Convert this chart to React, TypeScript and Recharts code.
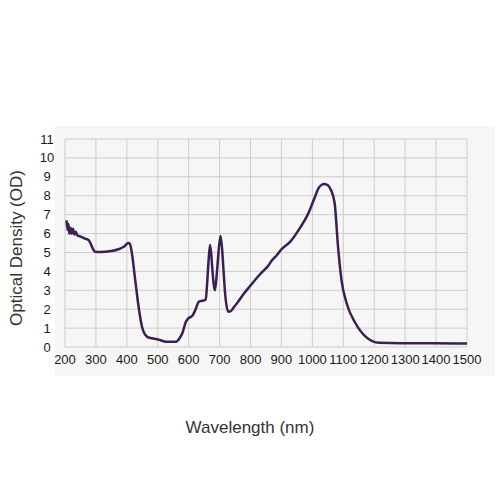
import { LineChart, Line, XAxis, YAxis, CartesianGrid } from "recharts";

const wavelengths = [
  205, 208, 211, 214, 218, 222, 226, 230, 235, 240, 249, 262, 276, 282, 290, 297, 315, 330, 350, 373,
  390, 405, 410, 416, 427, 438, 449, 465, 481, 501, 528, 560, 570, 580, 590, 598, 612, 620, 633, 655,
  659, 664, 669, 673, 677, 685, 692, 698, 703, 708, 712, 718, 728, 736, 746, 760, 775, 800, 820, 840,
  855, 870, 885, 898, 930, 960, 985, 1005, 1020, 1030, 1039, 1050, 1060, 1072, 1083, 1094, 1111, 1139,
  1172, 1216, 1284, 1392, 1500,
];

const opticalDensity = [
  6.7, 6.2, 6.5, 6.0, 6.3, 6.0, 6.25, 5.95, 6.1, 5.9, 5.85, 5.75, 5.66, 5.5, 5.2, 5.04, 5.02, 5.04, 5.08, 5.17,
  5.3, 5.5, 5.45, 5.0, 3.55, 2.13, 1.07, 0.55, 0.46, 0.4, 0.28, 0.28, 0.45, 0.75, 1.3, 1.5, 1.65, 1.9, 2.4, 2.5,
  3.2, 4.5, 5.4, 4.9, 4.0, 3.0, 4.1, 5.3, 5.87, 5.2, 4.2, 2.8, 1.87, 1.9, 2.1, 2.4, 2.75, 3.25, 3.65, 4.0,
  4.25, 4.6, 4.85, 5.13, 5.6, 6.3, 7.0, 7.8, 8.4, 8.58, 8.62, 8.55, 8.3, 7.6, 5.3, 3.55, 2.3, 1.27,
  0.55, 0.22, 0.2, 0.2, 0.18,
];

const xTicks = [200, 300, 400, 500, 600, 700, 800, 900, 1000, 1100, 1200, 1300, 1400, 1500];
const yTicks = [0, 1, 2, 3, 4, 5, 6, 7, 8, 9, 10, 11];

const data = wavelengths.map((w, i) => ({ w, od: opticalDensity[i] }));

function YTick({ x, y, payload }: any) {
  return (
    <text x={x - 10} y={y} textAnchor="middle" dominantBaseline="central" fontSize={13} fill="#1a1a1a">
      {payload.value}
    </text>
  );
}

export default function App() {
  return (
    <div style={{ position: "absolute", left: 0, top: 0, width: 500, height: 500, background: "#fff" }}>
      <div
        style={{ position: "absolute", left: 55, top: 126, width: 440, height: 250, background: "#f6f6f6" }}
      />
      <div style={{ position: "absolute", left: 0, top: 0 }}>
        <LineChart
          width={500}
          height={500}
          data={data}
          margin={{ top: 139, right: 33, bottom: 123, left: 25 }}
          style={{ fontFamily: "'Liberation Sans', Arial, sans-serif" }}
        >
          <CartesianGrid stroke="#cdcdcd" strokeWidth={1} verticalValues={xTicks} horizontalValues={yTicks} />
          <XAxis
            dataKey="w"
            type="number"
            domain={[200, 1500]}
            ticks={xTicks}
            interval={0}
            height={30}
            axisLine={false}
            tickLine={false}
            tick={{ fontSize: 13, fill: "#1a1a1a" }}
          />
          <YAxis
            type="number"
            domain={[0, 11]}
            ticks={yTicks}
            interval={0}
            width={40}
            axisLine={false}
            tickLine={false}
            tick={<YTick />}
          />
          <Line
            dataKey="od"
            type="monotone"
            stroke="#3b1f52"
            strokeWidth={2.5}
            dot={false}
            isAnimationActive={false}
          />
        </LineChart>
      </div>
      <div
        style={{
          position: "absolute",
          left: 0,
          top: 418,
          width: 500,
          textAlign: "center",
          fontFamily: "'Liberation Sans', Arial, sans-serif",
          fontSize: 17,
          color: "#333",
        }}
      >
        Wavelength (nm)
      </div>
      <div
        style={{
          position: "absolute",
          left: 17,
          top: 248,
          transform: "translate(-50%, -50%) rotate(-90deg)",
          whiteSpace: "nowrap",
          fontFamily: "'Liberation Sans', Arial, sans-serif",
          fontSize: 17,
          color: "#333",
        }}
      >
        Optical Density (OD)
      </div>
    </div>
  );
}
